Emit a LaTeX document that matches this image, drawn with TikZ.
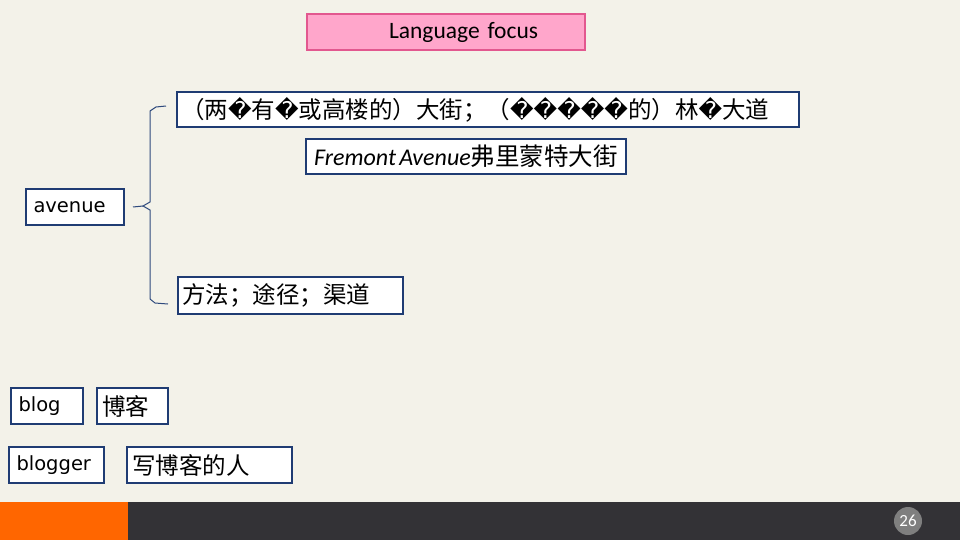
\documentclass[tikz,border=0pt]{standalone}
\usepackage{fontspec}
\setmainfont{Carlito}
\newfontfamily\cjk{Noto Sans CJK SC}
\newfontfamily\dvs{DejaVu Sans}
\newcommand{\rch}{{\dvs\fontsize{23}{27}\selectfont �}}
\definecolor{bgc}{HTML}{F3F2E9}
\definecolor{boxblue}{HTML}{1F3C73}
\definecolor{linkblue}{HTML}{2E4A7D}
\definecolor{pinkfill}{HTML}{FFA6CB}
\definecolor{pinkline}{HTML}{E2588F}
\definecolor{orangebar}{HTML}{FF6600}
\definecolor{darkbar}{HTML}{333236}
\definecolor{pagegray}{HTML}{7F7F7F}
\tikzset{
  wbox/.style={draw=boxblue, line width=2pt, fill=white, anchor=north west,
    inner xsep=0pt, inner ysep=0pt, minimum height=35pt, align=left},
  cjktext/.style={font=\cjk\fontsize{23.5}{27}\selectfont},
  lattext/.style={font=\dvs\fontsize{19.5}{23}\selectfont},
  brace/.style={draw=linkblue, line width=1pt}
}
\begin{document}
\begin{tikzpicture}[x=1pt,y=-1pt]
\useasboundingbox (0,0) rectangle (960,540);
\fill[bgc] (0,0) rectangle (960,540);
% bottom bar
\fill[orangebar] (0,502) rectangle (128,540);
\fill[darkbar] (128,502) rectangle (960,540);
\node[circle, fill=pagegray, minimum size=28pt, inner sep=0pt, text=white,
  font=\fontsize{17}{19}\selectfont] (page) at (908,521) {26};
% title
\node[draw=pinkline, line width=2pt, fill=pinkfill, anchor=north west,
  minimum width=278pt, minimum height=36pt, inner sep=0pt,
  text width=278pt, align=left, font=\fontsize{23.5}{27}\selectfont] (title) at (306,13)
  {\hspace*{82pt}Language focus};
% main boxes
\node[wbox, cjktext, text width=614pt, inner xsep=4pt] (m1) at (176,91)
  {（两\rch 有\rch 或高楼的）大街；（\rch\rch\rch\rch\rch 的）林\rch 大道};
\node[wbox, text width=314pt, inner xsep=3pt, align=center] (m2) at (305,138)
  {{\fontsize{24}{28}\selectfont\itshape Fremont Avenue}{\cjk\fontsize{24.5}{28}\selectfont 弗里蒙特大街}};
\node[wbox, lattext, text width=89pt, inner xsep=4.5pt, minimum height=36pt] (av) at (25,188)
  {\hspace*{3pt}avenue};
\node[wbox, cjktext, text width=217pt, inner xsep=4pt, minimum height=37pt] (m3) at (177,276)
  {方法；途径；渠道};
% vocabulary
\node[wbox, lattext, text width=63pt, inner xsep=4.5pt, minimum height=36pt] (blog) at (10,387) {\hspace*{3pt}blog};
\node[wbox, cjktext, text width=61pt, inner xsep=5pt, minimum height=36pt] (boke) at (96,387) {博客};
\node[wbox, lattext, text width=86pt, inner xsep=4.5pt, minimum height=36pt] (blogger) at (8,446) {\hspace*{3pt}blogger};
\node[wbox, cjktext, text width=155pt, inner xsep=5pt, minimum height=36pt] (xie) at (126,446) {写博客的人};
% brace
\coordinate (tip) at (143,206);
\coordinate (top) at (166,106);
\coordinate (bot) at (168,304);
\draw[brace] (top) -- (156,107) -- (150,111) -- (150,202) -- (tip) -- (150,210) -- (150,299) -- (155,303) -- (bot);
\draw[brace] ([xshift=8pt]av.east) -- (tip);
\end{tikzpicture}
\end{document}
